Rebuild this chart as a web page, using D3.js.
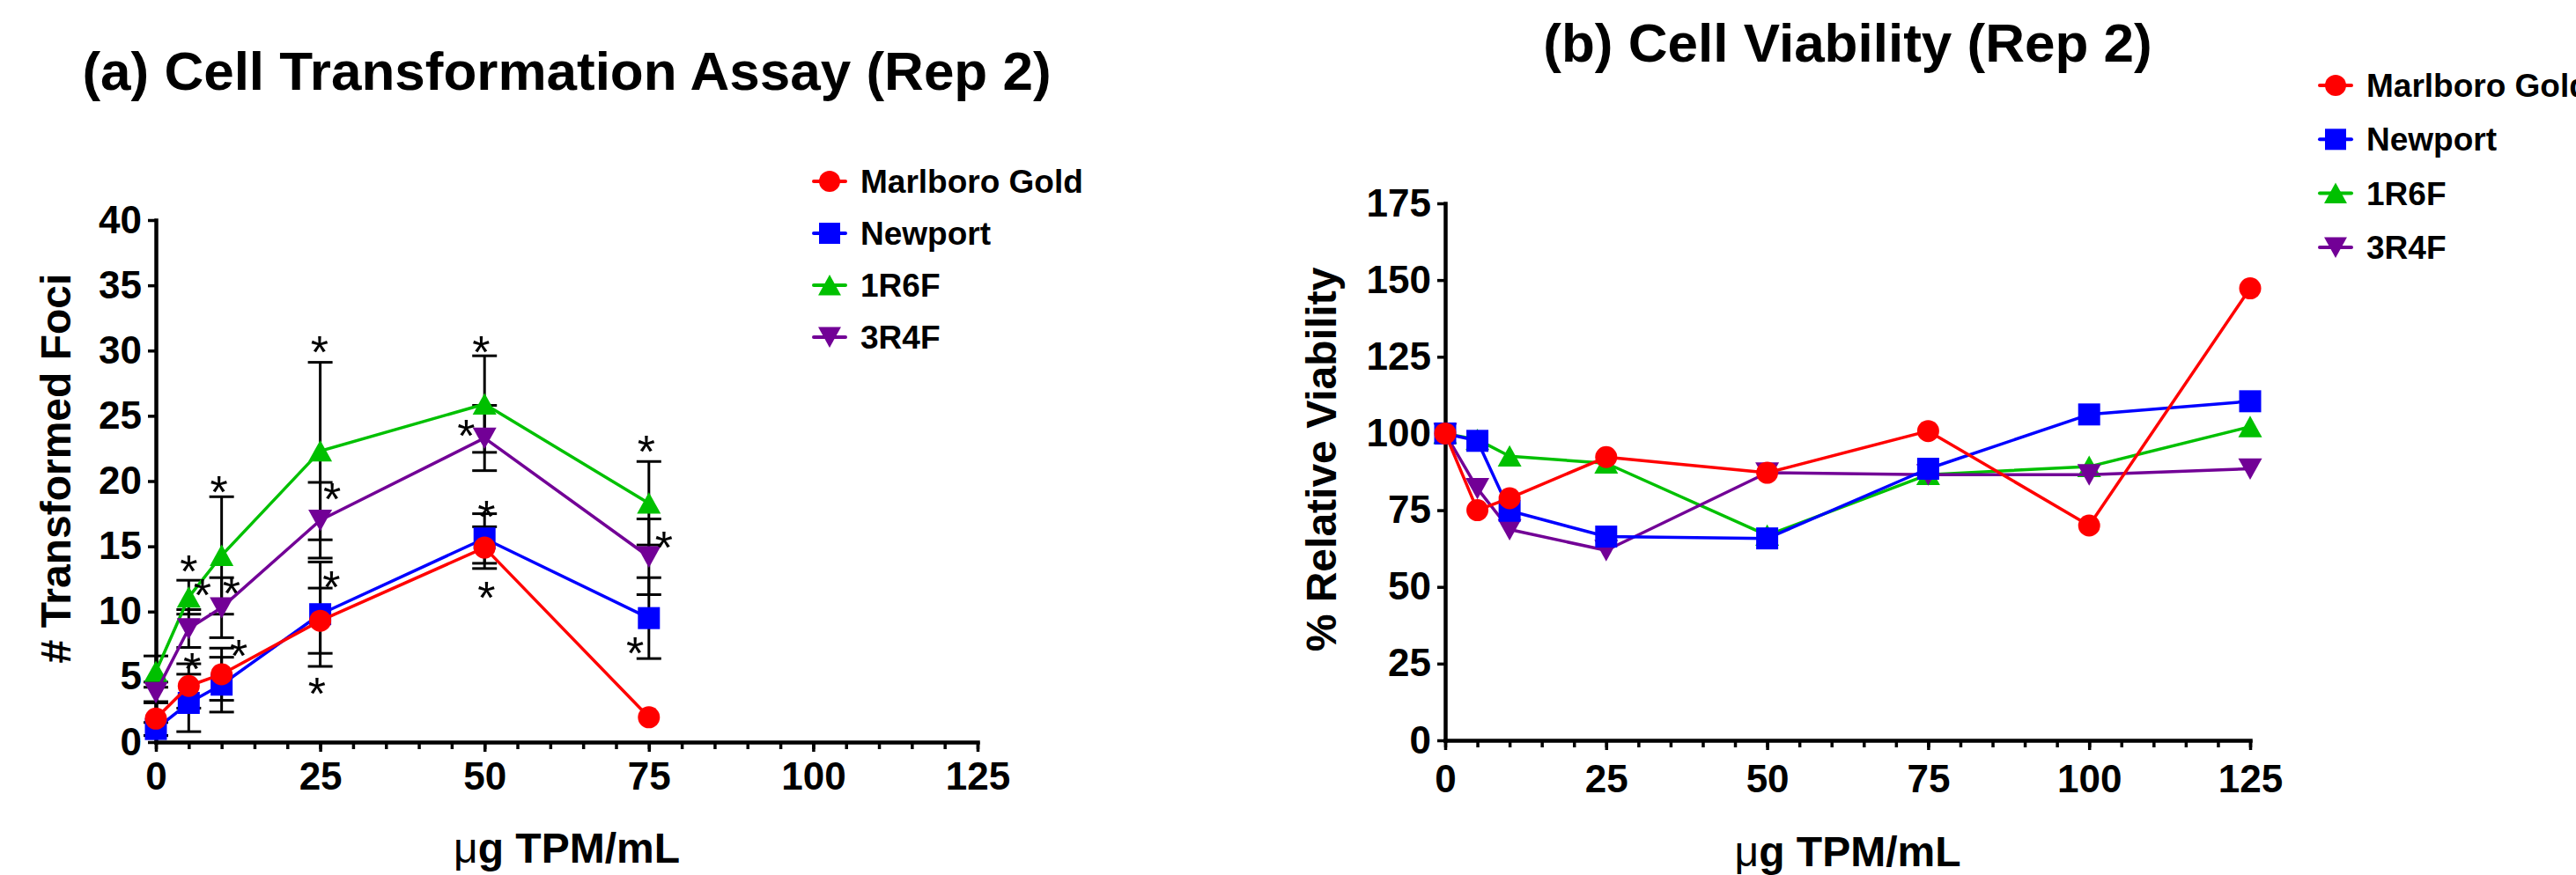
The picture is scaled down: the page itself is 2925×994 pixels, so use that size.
<!DOCTYPE html>
<html>
<head>
<meta charset="utf-8">
<script src="https://cdn.jsdelivr.net/npm/d3@7"></script>
<style>
  body { margin: 0; background: #fff; }
  svg { display: block; }
  text { font-family: "Liberation Sans", Arial, Helvetica, sans-serif; font-weight: bold; fill: #000; }
</style>
</head>
<body>
<script>
// series shared by both panels
const seriesNames = ["Marlboro Gold", "Newport", "1R6F", "3R4F"];
const seriesColors = ["#ff0000", "#0000ff", "#00c000", "#720096"];
const seriesShapes = ["circle", "square", "triangle", "triangleDown"];

// (a) cell transformation assay
const fociDoses = [0, 5, 10, 25, 50, 75];
const fociMarlboro = [1.8, 4.3, 5.2, 9.3, 14.9, 1.9];
const fociMarlboroErr = [1.3, 1.7, 2.0, 2.5, 1.6, 0];
const fociNewport = [1.0, 3.0, 4.4, 9.8, 15.6, 9.5];
const fociNewportErr = [0.5, 2.2, 2.1, 4.0, 1.9, 3.1];
const foci1R6F = [5.4, 11.1, 14.3, 22.3, 25.9, 18.3];
const foci1R6FErr = [1.2, 1.3, 4.5, 6.8, 3.7, 3.2];
const foci3R4F = [3.8, 8.7, 10.3, 17.0, 23.3, 14.2];
const foci3R4FErr = [0.8, 1.45, 2.3, 2.9, 2.5, 2.9];
// significance asterisks [dose, value]
const fociStars = [
  [5.0, 13.9], [7.1, 12.1], [5.5, 6.4], [9.6, 20.0], [11.5, 12.2], [12.6, 7.4],
  [24.9, 30.7], [26.8, 19.4], [26.7, 12.7], [24.5, 4.5],
  [49.5, 30.7], [47.2, 24.3], [50.3, 18.1], [50.3, 11.9],
  [74.6, 23.1], [77.3, 15.7], [72.9, 7.6]
];
const fociTicks = [0, 5, 10, 15, 20, 25, 30, 35, 40];

// (b) cell viability
const viabDoses = [0, 5, 10, 25, 50, 75, 100, 125];
const viabMarlboro = [100, 75.0, 78.9, 92.3, 87.2, 100.8, 70.0, 147.3];
const viabNewport = [100, 97.6, 74.8, 66.4, 65.8, 88.5, 106.2, 110.5];
const viab1R6F = [100, 98.0, 92.6, 90.3, 66.8, 86.6, 89.2, 102.2];
const viab3R4F = [100, 82.1, 68.7, 61.9, 87.2, 86.6, 86.6, 88.5];
const viabTicks = [0, 25, 50, 75, 100, 125, 150, 175];

const doseTicks = [0, 25, 50, 75, 100, 125];
const doseMinorTicks = d3.range(0, 126, 5);

const svg = d3.select("body").append("svg")
  .attr("width", 2925)
  .attr("height", 994);

function shapePath(shape, s) {
  const h = s / 2;
  if (shape === "circle") return d3.symbol(d3.symbolCircle, Math.PI * h * h)();
  if (shape === "square") return `M${-h},${-h}H${h}V${h}H${-h}Z`;
  if (shape === "triangle") return `M0,${-h}L${h * 1.08},${h * 0.95}L${-h * 1.08},${h * 0.95}Z`;
  return `M0,${h}L${h * 1.08},${-h * 0.95}L${-h * 1.08},${-h * 0.95}Z`;
}

function panel(o) {
  const x = d3.scaleLinear().domain([0, 125]).range(o.xRange);
  const y = d3.scaleLinear().domain([0, o.yMax]).range(o.yRange);
  const g = svg.append("g");

  // minor x ticks
  g.append("g")
    .attr("transform", `translate(0,${o.yRange[0]})`)
    .call(d3.axisBottom(x).tickValues(doseMinorTicks).tickSize(8).tickFormat(""))
    .call(a => a.select(".domain").remove())
    .selectAll("line").attr("stroke-width", 3.5);

  const xAxis = g.append("g")
    .attr("transform", `translate(0,${o.yRange[0]})`)
    .call(d3.axisBottom(x).tickValues(doseTicks).tickSize(11).tickSizeOuter(0))
    .attr("font-size", 44)
    .attr("font-family", null);
  xAxis.selectAll(".tick text").attr("y", o.xLabelY).attr("dy", 0);

  const yAxis = g.append("g")
    .attr("transform", `translate(${o.xRange[0]},0)`)
    .call(d3.axisLeft(y).tickValues(o.yTicks).tickSize(9).tickSizeOuter(0).tickPadding(7))
    .attr("font-size", 44)
    .attr("font-family", null);

  [xAxis, yAxis].forEach(a => {
    a.select(".domain").attr("stroke-width", 4.5).attr("stroke-linecap", "square");
    a.selectAll(".tick line").attr("stroke-width", 3.5);
  });

  // error bars under the data
  if (o.errors) {
    const eb = g.append("g").attr("stroke", "#000").attr("stroke-width", 3);
    o.values.forEach((vals, si) => {
      vals.forEach((v, i) => {
        const e = o.errors[si][i];
        if (!e) return;
        const cx = x(o.doses[i]);
        eb.append("line").attr("x1", cx).attr("x2", cx).attr("y1", y(v - e)).attr("y2", y(v + e));
        [v - e, v + e].forEach(t => {
          eb.append("line").attr("x1", cx - 14).attr("x2", cx + 14).attr("y1", y(t)).attr("y2", y(t));
        });
      });
    });
  }

  // draw back to front so Marlboro Gold sits on top
  [2, 3, 1, 0].forEach(si => {
    const vals = o.values[si];
    const line = d3.line().x((d, i) => x(o.doses[i])).y(d => y(d));
    g.append("path")
      .datum(vals)
      .attr("d", line)
      .attr("fill", "none")
      .attr("stroke", seriesColors[si])
      .attr("stroke-width", 3.5)
      .attr("stroke-linejoin", "round");
    g.selectAll(null)
      .data(vals)
      .enter().append("path")
      .attr("transform", (d, i) => `translate(${x(o.doses[i])},${y(d)})`)
      .attr("d", shapePath(seriesShapes[si], 25))
      .attr("fill", seriesColors[si]);
  });

  if (o.stars) {
    g.selectAll(null)
      .data(o.stars)
      .enter().append("text")
      .attr("x", d => x(d[0]))
      .attr("y", d => y(d[1]) + 30)
      .attr("text-anchor", "middle")
      .attr("font-size", 52)
      .style("font-weight", "normal")
      .text("*");
  }

  // titles
  const cx = (o.xRange[0] + o.xRange[1]) / 2;
  svg.append("text")
    .attr("x", cx).attr("y", o.titleY)
    .attr("text-anchor", "middle")
    .attr("font-size", 62)
    .text(o.title);

  const xt = svg.append("text")
    .attr("x", cx).attr("y", o.xTitleY)
    .attr("text-anchor", "middle")
    .attr("font-size", 48);
  xt.append("tspan").style("font-weight", "normal").text("\u03bc");
  xt.append("tspan").text("g TPM/mL");

  svg.append("text")
    .attr("transform", `translate(${o.yTitleX},${o.yTitleY}) rotate(-90)`)
    .attr("text-anchor", "middle")
    .attr("font-size", 48)
    .text(o.yTitle);

  // legend
  const lg = svg.append("g").attr("transform", `translate(${o.legendX},${o.legendY})`);
  seriesNames.forEach((name, i) => {
    const row = lg.append("g").attr("transform", `translate(0,${i * o.legendStep})`);
    row.append("line").attr("x1", -18).attr("x2", 18)
      .attr("stroke", seriesColors[i]).attr("stroke-width", 4).attr("stroke-linecap", "round");
    row.append("path").attr("d", shapePath(seriesShapes[i], 24)).attr("fill", seriesColors[i]);
    row.append("text").attr("x", 35).attr("dy", "0.35em").attr("font-size", 37).text(name);
  });
}

panel({
  xRange: [177, 1110], yRange: [843, 250], yMax: 40, yTicks: fociTicks,
  doses: fociDoses,
  values: [fociMarlboro, fociNewport, foci1R6F, foci3R4F],
  errors: [fociMarlboroErr, fociNewportErr, foci1R6FErr, foci3R4FErr],
  stars: fociStars,
  xLabelY: 54,
  title: "(a) Cell Transformation Assay (Rep 2)", titleY: 102,
  xTitleY: 980,
  yTitle: "# Transformed Foci", yTitleX: 80, yTitleY: 532,
  legendX: 942, legendY: 206, legendStep: 59
});

panel({
  xRange: [1641, 2555], yRange: [841, 231], yMax: 175, yTicks: viabTicks,
  doses: viabDoses,
  values: [viabMarlboro, viabNewport, viab1R6F, viab3R4F],
  xLabelY: 59,
  title: "(b) Cell Viability (Rep 2)", titleY: 70,
  xTitleY: 984,
  yTitle: "% Relative Viability", yTitleX: 1517, yTitleY: 522,
  legendX: 2652, legendY: 97, legendStep: 61.3
});
</script>
</body>
</html>
